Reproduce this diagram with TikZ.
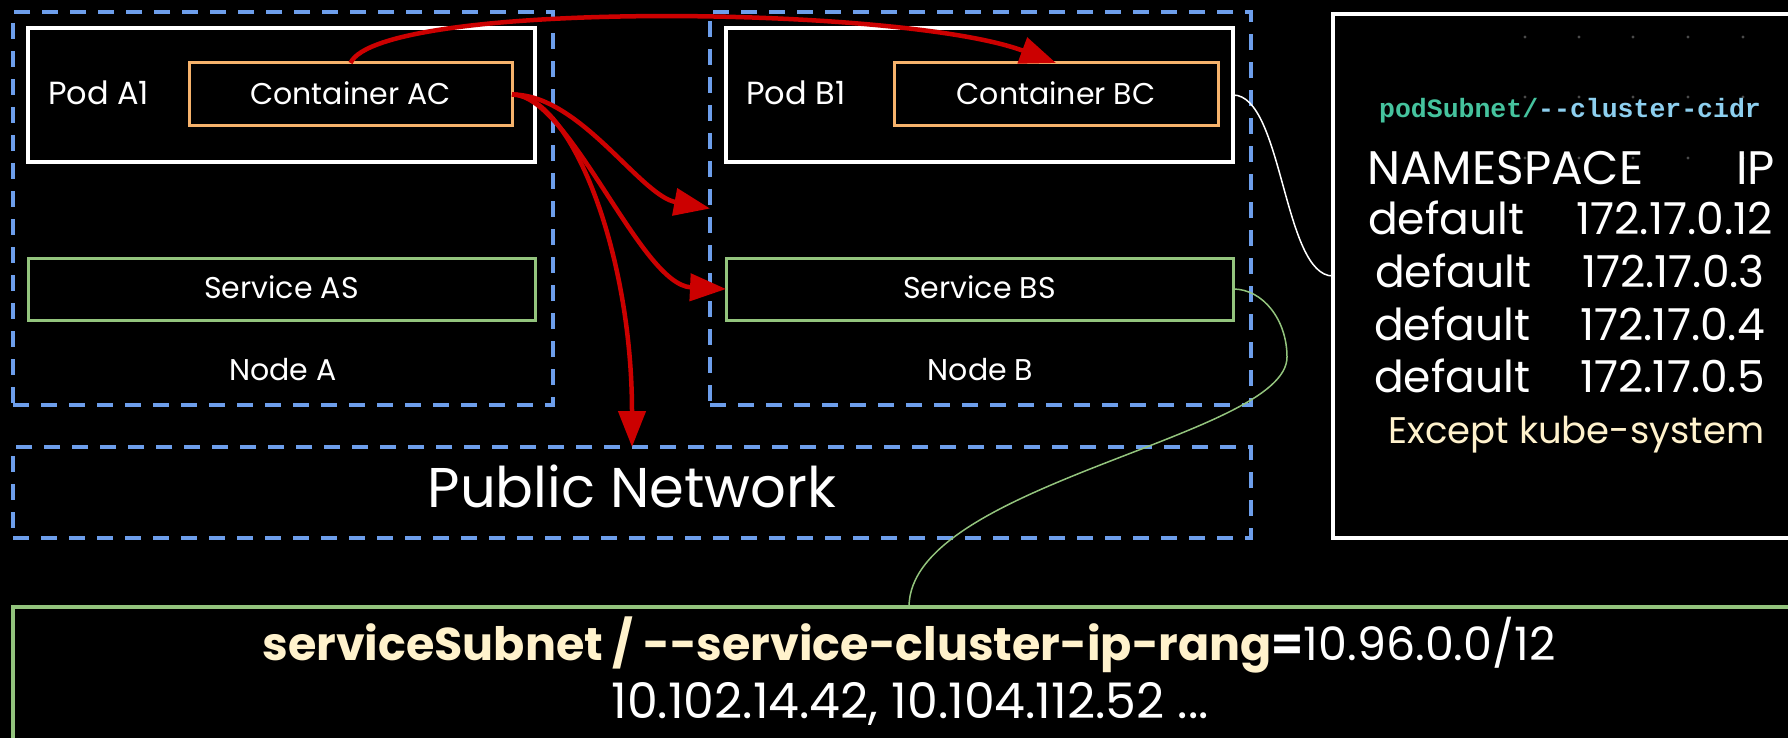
\documentclass[tikz,border=0pt]{standalone}
\usepackage{fontspec}
\setmainfont{Poppins}
\newfontfamily\codefont{Liberation Mono}
\usetikzlibrary{arrows.meta,fit}

\definecolor{nodeblue}{HTML}{6D9EEB}
\definecolor{podorange}{HTML}{F6B26B}
\definecolor{svcgreen}{HTML}{93C47D}
\definecolor{flowred}{HTML}{CC0000}
\definecolor{cream}{HTML}{FFF2CC}
\definecolor{codeteal}{HTML}{45C39E}
\definecolor{codeblue}{HTML}{8DCFEF}
\definecolor{griddot}{HTML}{4A4A4A}

\tikzset{
  frame/.style={rectangle, inner sep=0pt, outer sep=0pt},
  nodebox/.style={frame, draw=nodeblue, line width=3.5pt, dash pattern=on 16pt off 12pt},
  podbox/.style={frame, draw=white, line width=3.5pt},
  ctrbox/.style={frame, draw=podorange, line width=3pt},
  svcbox/.style={frame, draw=svcgreen, line width=3pt},
  infobox/.style={frame, draw=white, line width=3.5pt},
  netbox/.style={frame, draw=svcgreen, line width=4pt},
  txt/.style={text=white, anchor=base, inner sep=0pt, font=\fontsize{30}{36}\selectfont},
  podtxt/.style={txt, anchor=base west, font=\fontsize{32}{38}\selectfont},
  bigtxt/.style={txt, font=\fontsize{56}{66}\selectfont},
  headtxt/.style={txt, font=\fontsize{47}{56}\selectfont},
  rowtxt/.style={txt, font=\fontsize{44}{52}\selectfont},
  notetxt/.style={txt, text=cream, font=\fontsize{37}{44}\selectfont},
  codetxt/.style={anchor=base, inner sep=0pt, font=\codefont\bfseries\fontsize{26.5}{32}\selectfont},
  flow/.style={draw=flowred, line width=4.5pt, -{Triangle[length=36pt,width=27pt]}},
  link/.style={line width=1.5pt},
}

\begin{document}
\begin{tikzpicture}[x=1pt,y=-1pt]
\useasboundingbox (0,0) rectangle (1788,738);
\clip (0,0) rectangle (1788,738);
\fill[black] (0,0) rectangle (1788,738);

% worker node A
\node[nodebox, fit={(13,12) (553,405)}] (nodeA) {};
\node[podbox,  fit={(28,28) (535,162)}] (podA) {};
\node[ctrbox,  fit={(189,63) (512,126)}] (ac) {};
\node[svcbox,  fit={(28,258) (535,320)}] (sas) {};
\node[podtxt] (lpodA) at (48,105) {Pod A1};
\node[txt] (lac) at (350.5,105) {Container AC};
\node[txt] (lsas) at (281.5,298) {Service AS};
\node[txt] (lnodeA) at (283,380) {Node A};

% worker node B
\node[nodebox, fit={(710,12) (1251,405)}] (nodeB) {};
\node[podbox,  fit={(726,28) (1233,162)}] (podB) {};
\node[ctrbox,  fit={(894,63) (1218,126)}] (bc) {};
\node[svcbox,  fit={(726,258) (1233,320)}] (sbs) {};
\node[podtxt] (lpodB) at (746,105) {Pod B1};
\node[txt] (lbc) at (1056,105) {Container BC};
\node[txt] (lsbs) at (979.5,298) {Service BS};
\node[txt] (lnodeB) at (980.5,380) {Node B};

% public network
\node[nodebox, fit={(13,447) (1251,538)}] (pubnet) {};
\node[bigtxt] (lpub) at (632,507) {Public Network};

% pod address table
\node[infobox, fit={(1333,14) (1809,538)}] (tbl) {};
\foreach \gx in {1525,1579,1633,1688,1743}
  \foreach \gy in {37,97,158}
    \fill[griddot] (\gx,\gy) circle (1.6pt);
\node[codetxt] (pcidr) at (1570,118)
  {\textcolor{codeteal}{podSubnet/}\textcolor{codeblue}{-{}-cluster-cidr}};
\node[headtxt, anchor=base west] (hns) at (1367,185) {NAMESPACE};
\node[headtxt, anchor=base east] (hip) at (1775,185) {IP};
\node[rowtxt, anchor=base west] (ns1) at (1368,235) {default};
\node[rowtxt, anchor=base east] (ip1) at (1773,235) {172.17.0.12};
\node[rowtxt, anchor=base west] (ns2) at (1375,287) {default};
\node[rowtxt, anchor=base east] (ip2) at (1765,287) {172.17.0.3};
\node[rowtxt, anchor=base west] (ns3) at (1374,340) {default};
\node[rowtxt, anchor=base east] (ip3) at (1765,340) {172.17.0.4};
\node[rowtxt, anchor=base west] (ns4) at (1374,392) {default};
\node[rowtxt, anchor=base east] (ip4) at (1765,392) {172.17.0.5};
\node[notetxt] (texcept) at (1576.5,443) {Except kube-system};

% service address range
\node[netbox, fit={(13,607) (1805,800)}] (svcnet) {};
\node[txt, font=\fontsize{46}{54}\selectfont] (lsvc1) at (909,660)
  {\textbf{\textcolor{cream}{serviceSubnet / -{}-service-cluster-ip-rang}=}10.96.0.0/12};
\node[txt, font=\fontsize{49}{58}\selectfont] (lsvc2) at (910,718)
  {10.102.14.42, 10.104.112.52 ...};

% traffic from Container AC
\draw[flow] (ac.north) .. controls +(29.5,-63) and +(-156,-58) .. (bc.north);
\draw[flow] (ac.east) .. controls +(68,0) and +(-70,-13) .. (nodeB.west);
\draw[flow] (ac.east) .. controls +(58,0) and +(-86,-4) .. (sbs.west);
\draw[flow] (ac.east) .. controls +(58,0) and +(0,-197) .. (pubnet.north);

% annotation links
\draw[link, white] (podB.east) .. controls +(50,0) and +(-50,0) .. (tbl.west);
\coordinate (sbsbend) at ([shift={(54,68)}]sbs.east);
\draw[link, svcgreen] (sbs.east) .. controls +(30,0) and +(0,-37) .. (sbsbend)
  .. controls +(0,80) and +(0,-123) .. (svcnet.north);
\end{tikzpicture}
\end{document}
